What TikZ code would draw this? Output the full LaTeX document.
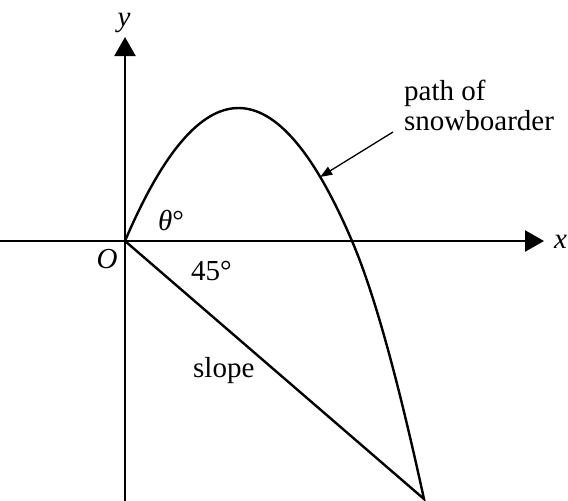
\documentclass[tikz,border=0pt]{standalone}
\usepackage{fontspec}
\setmainfont{Liberation Serif}
\usetikzlibrary{arrows.meta}
\begin{document}
\begin{tikzpicture}[x=1pt, y=-1pt, line width=2.4pt,
  every node/.style={font=\fontsize{29}{30}\selectfont, inner sep=0pt},
  axis/.style={-{Triangle[length=19pt,width=21pt]}},
  lbl/.style={anchor=base west}]
\useasboundingbox (0,0) rectangle (568,501);
% axes
\coordinate (O) at (125,241);
\coordinate (xl) at (0,241);
\coordinate (xr) at (544,241);
\coordinate (yb) at (125,501);
\coordinate (yt) at (125,37);
\draw[axis] (xl) -- (xr);
\draw[axis] (yb) -- (yt);
\node[lbl] (xlab) at (553,248) {\textit{x}};
\node[anchor=base] (ylab) at (124,26) {\textit{y}};
\node[anchor=base] (olab) at (107,268) {\textit{O}};
% slope and path
\coordinate (S) at (424,499);
\coordinate (X) at (352,241);
\draw[line join=miter] (O) -- (S) .. controls (400,389) and (376,297) .. (X)
  .. controls (276.3,63.7) and (200.7,63.7) .. (O) coordinate[pos=0.14] (hit);
\node[lbl] (theta) at (157,230) {\textit{θ}°};
\node[lbl] (ang) at (190,280) {45°};
\node[lbl] (slope) at (192,377) {slope};
% label
\node[anchor=south west, align=left] (path) at (403,132) {path of\\snowboarder};
\draw[line width=1.3pt, -{Triangle[length=12pt,width=9pt]}] ([xshift=-10pt]path.south west) -- (hit);
\end{tikzpicture}
\end{document}
